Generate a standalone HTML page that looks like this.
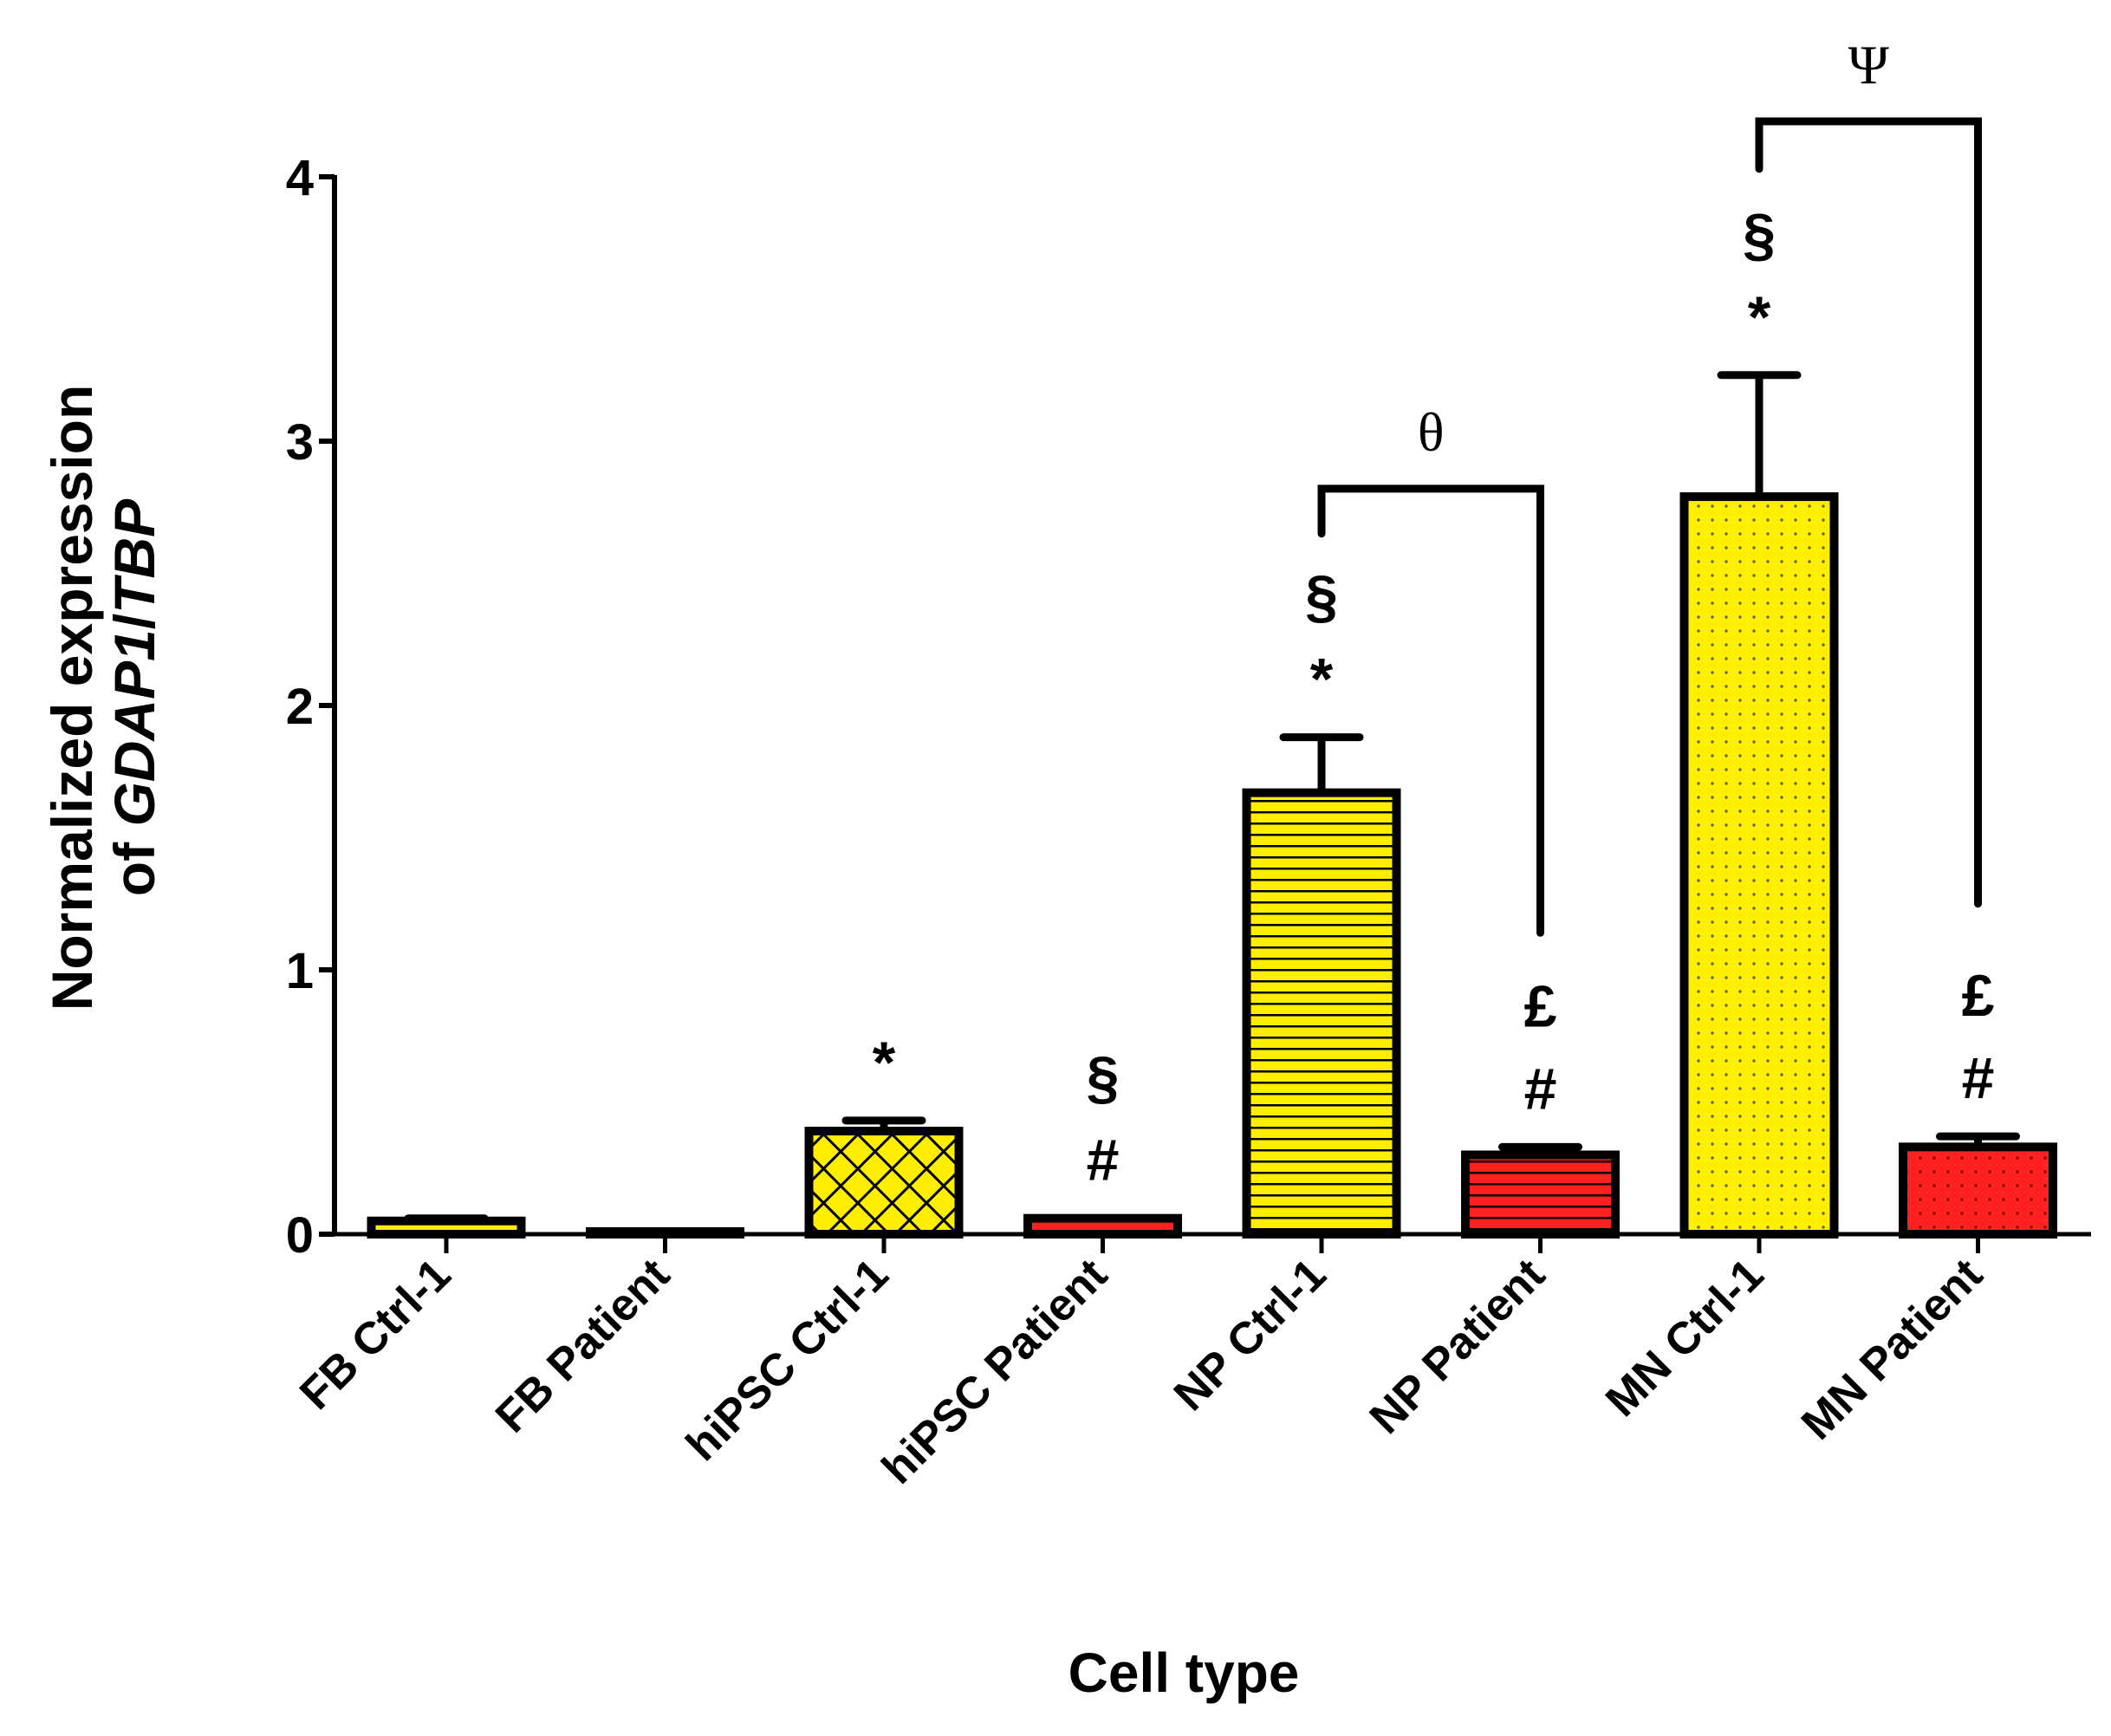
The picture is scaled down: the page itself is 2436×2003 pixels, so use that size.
<!DOCTYPE html>
<html><head><meta charset="utf-8"><style>
body{margin:0;background:#fff}
svg text{font-family:"Liberation Sans",Arial,sans-serif;font-weight:bold;fill:#000}
svg text.serif{font-family:"Liberation Serif",serif;font-weight:normal}
</style></head><body>
<svg id="chart" width="2436" height="1998" viewBox="0 0 2436 1998" xmlns="http://www.w3.org/2000/svg">
<defs>
<pattern id="pHatch" width="28" height="28" patternUnits="userSpaceOnUse" patternTransform="rotate(45)"><rect width="28" height="28" fill="#ffee00"/><path d="M0 0H28M0 0V28" stroke="#000" stroke-width="6"/></pattern>
<pattern id="pLinesY" width="10" height="13" patternUnits="userSpaceOnUse"><rect width="10" height="13" fill="#ffee00"/><path d="M0 1H10" stroke="#000" stroke-width="3"/></pattern>
<pattern id="pLinesR" width="10" height="13" patternUnits="userSpaceOnUse"><rect width="10" height="13" fill="#ff2020"/><path d="M0 1H10" stroke="#000" stroke-width="3"/></pattern>
<pattern id="pDotsY" width="16" height="16" patternUnits="userSpaceOnUse"><rect width="16" height="16" fill="#ffee00"/><circle cx="8" cy="8" r="1.6" fill="#555"/></pattern>
<pattern id="pDotsR" width="16" height="16" patternUnits="userSpaceOnUse"><rect width="16" height="16" fill="#ff2020"/><circle cx="8" cy="8" r="1.6" fill="#700"/></pattern>
</defs>
<g id="plot"></g>
<text x="1366" y="1952" font-size="64" text-anchor="middle">Cell type</text>
<g transform="translate(106,805) rotate(-90)">
<text x="0" y="0" font-size="66" text-anchor="middle">Normalized expression</text>
<text x="0" y="72" font-size="66" text-anchor="middle">of <tspan font-style="italic">GDAP1</tspan>/<tspan font-style="italic">TBP</tspan></text>
</g>
</svg>
<script>
const categories=["FB Ctrl-1","FB Patient","hiPSC Ctrl-1","hiPSC Patient","NP Ctrl-1","NP Patient","MN Ctrl-1","MN Patient"];
const values=[0.05,0.01,0.39,0.06,1.67,0.30,2.79,0.33];
const errors=[0.01,0.0,0.04,0.0,0.21,0.03,0.46,0.04];
const fills=["#ffee00","#ff2020","url(#pHatch)","#ff2020","url(#pLinesY)","url(#pLinesR)","url(#pDotsY)","url(#pDotsR)"];
const annotations=[[],[],["*"],["#","§"],["*","§"],["#","£"],["*","§"],["#","£"]];
const yTicks=[0,1,2,3,4];
const brackets=[{from:4,to:5,top:2.82,leftEnd:2.65,rightEnd:1.14,label:"θ"},{from:6,to:7,top:4.21,leftEnd:4.03,rightEnd:1.25,label:"Ψ"}];
const NS="http://www.w3.org/2000/svg";
const g=document.getElementById('plot');
const X0=386,X1=2413,Y0=1424,UNIT=305,FIRST=515,STEP=252.5,BW=173;
const yS=v=>Y0-v*UNIT;
const xS=i=>FIRST+i*STEP;
function mk(t,a){const e=document.createElementNS(NS,t);for(const k in a)e.setAttribute(k,a[k]);g.appendChild(e);return e;}
let e=mk('line',{x1:X0,y1:yS(4)-2,x2:X0,y2:Y0,stroke:'#000','stroke-width':6});


e=mk('line',{x1:X0-3,y1:Y0,x2:X1,y2:Y0,stroke:'#000','stroke-width':5});


yTicks.forEach(t=>{
  let l=mk('line',{x1:X0-18,y1:yS(t),x2:X0,y2:yS(t),stroke:'#000','stroke-width':6});
  
  
  let tx=mk('text',{x:X0-24,y:yS(t)+21,'font-size':58,'text-anchor':'end'});tx.textContent=t;
  
  
});
categories.forEach((c,i)=>{
  const cx=xS(i),v=values[i],top=yS(v);
  let r=mk('rect',{x:cx-BW/2,y:top,width:BW,height:Math.max(Y0-top,3),fill:fills[i],stroke:'#000','stroke-width':10});
  
  
  const et=yS(v+errors[i]);
  let el=mk('path',{d:`M${cx} ${top}V${et}M${cx-44} ${et}H${cx+44}`,stroke:'#000','stroke-width':9,fill:'none','stroke-linecap':'round'});
  
  
  let tk=mk('line',{x1:cx,y1:Y0,x2:cx,y2:Y0+22,stroke:'#000','stroke-width':5});
  
  
  let lb=mk('text',{x:0,y:0,'font-size':52,'text-anchor':'end',transform:`translate(${cx+8},${Y0+50}) rotate(-45)`});lb.textContent=c;
  
  
  annotations[i].forEach((s,k)=>{
    let a=mk('text',{x:cx,y:et-44-k*95,'font-size':68,'text-anchor':'middle'});a.textContent=s;
    
    
  });
});
brackets.forEach(b=>{
  const xa=xS(b.from),xb=xS(b.to),yt=yS(b.top);
  let p=mk('path',{d:`M${xa} ${yS(b.leftEnd)}V${yt}H${xb}V${yS(b.rightEnd)}`,stroke:'#000','stroke-width':9,fill:'none','stroke-linecap':'round'});
  
  
  let t=mk('text',{x:(xa+xb)/2,y:yt-44,'font-size':64,'text-anchor':'middle','class':'serif'});t.textContent=b.label;
  
  
});
</script>
</body></html>
